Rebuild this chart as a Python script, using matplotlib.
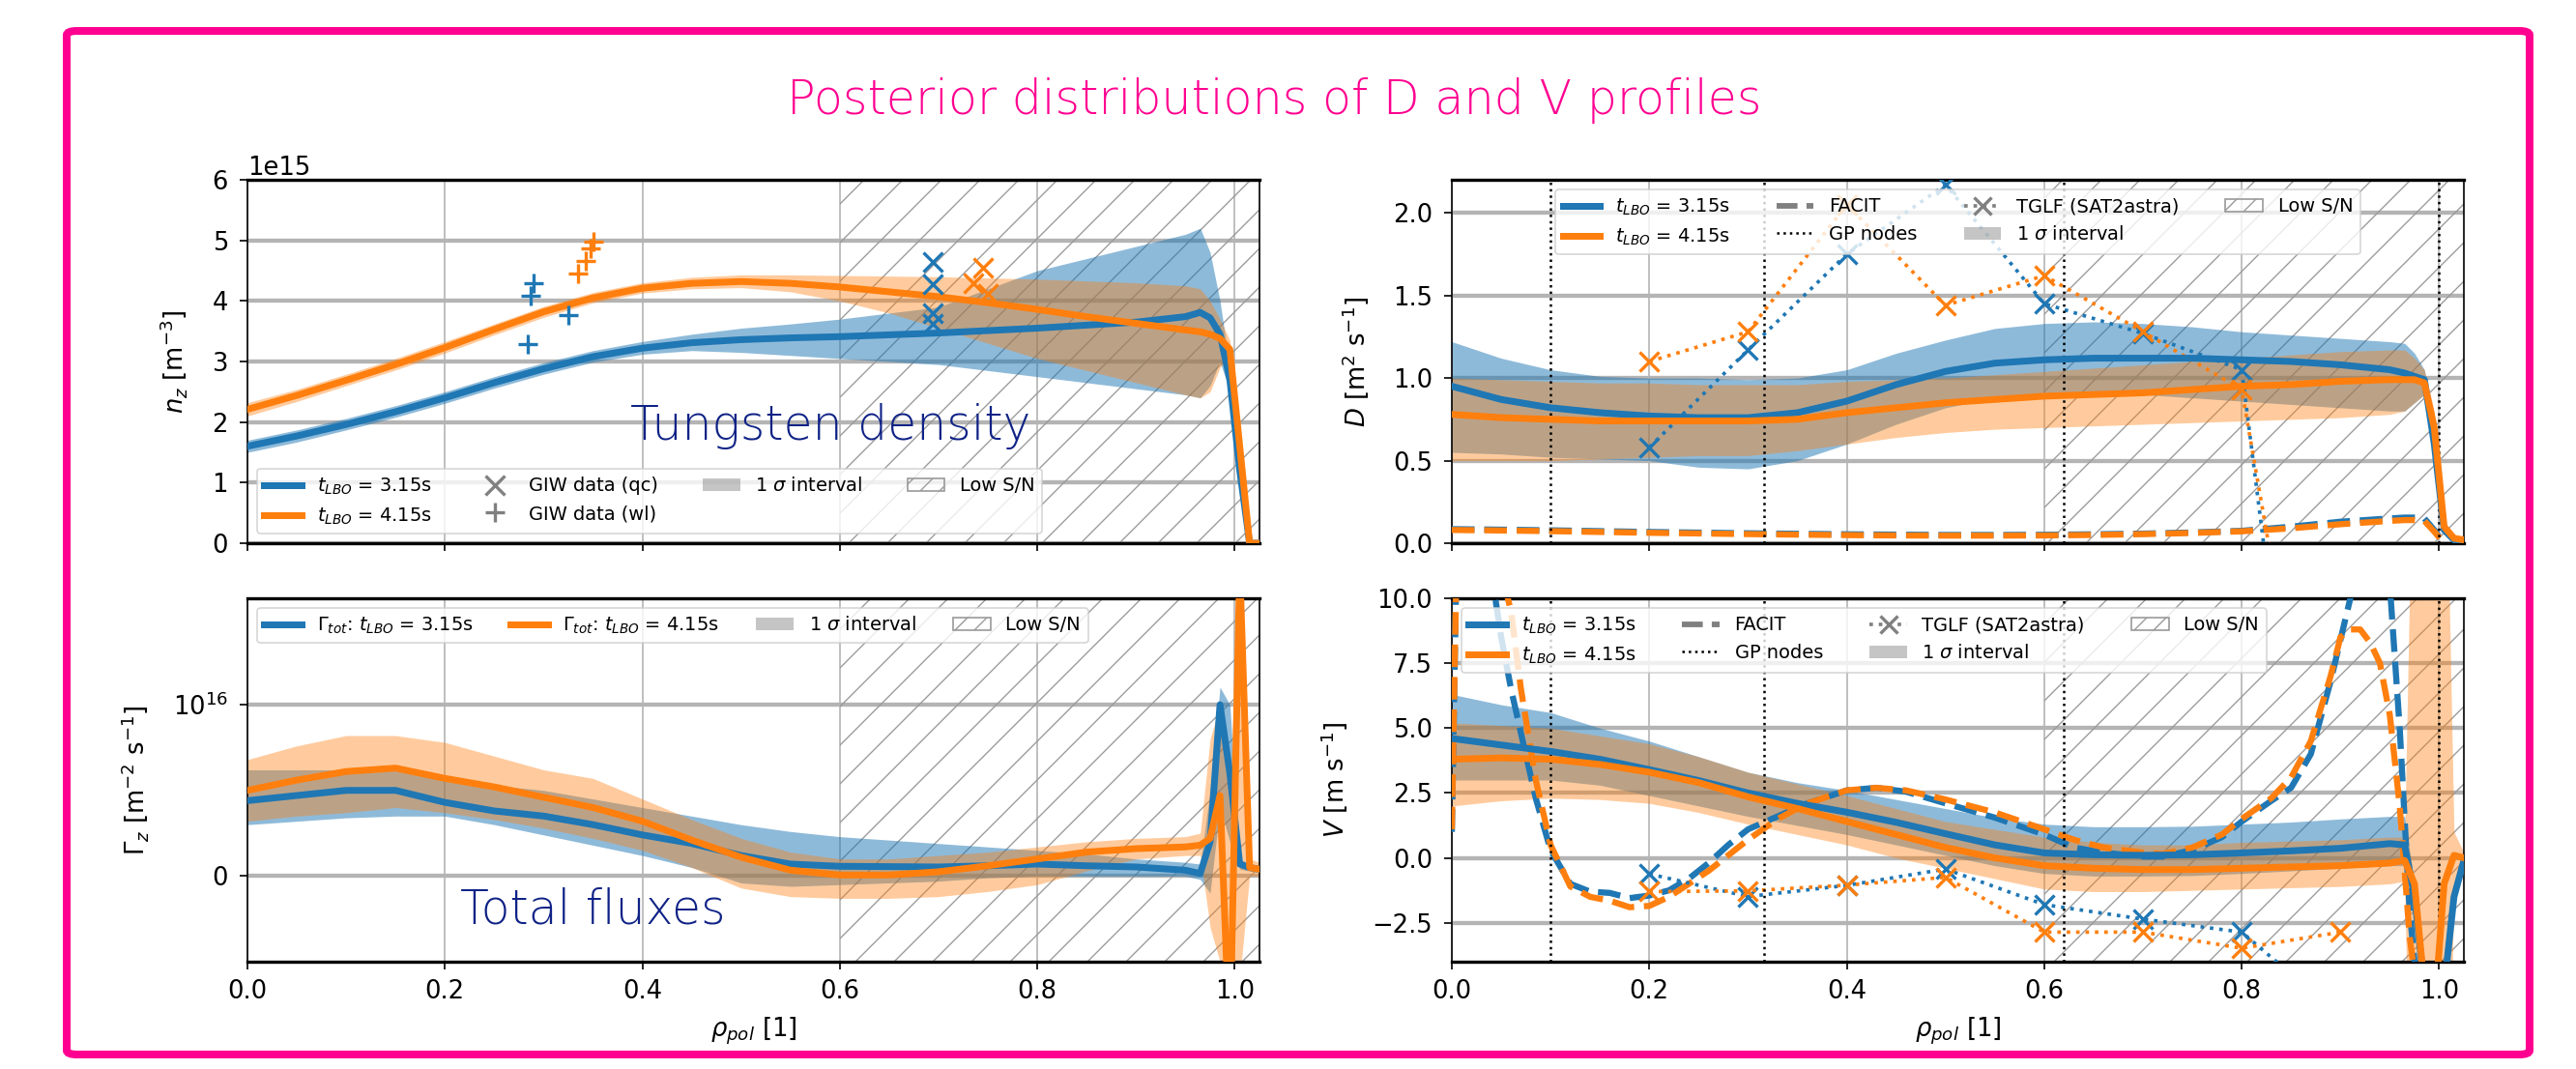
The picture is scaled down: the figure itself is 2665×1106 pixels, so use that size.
import numpy as np
import matplotlib
matplotlib.use("Agg")
import matplotlib.pyplot as plt
from matplotlib.lines import Line2D
from matplotlib.patches import Patch, FancyBboxPatch
from matplotlib.ticker import MultipleLocator, NullLocator

DPI = 120
W_PX, H_PX = 2665, 1106
PINK = "#ff0090"
NAVY = "#0f2286"
BLUE, ORANGE = "#1f77b4", "#ff7f0e"
HATCH_C = "0.6"

plt.rcParams.update({
    "font.family": ["DejaVu Sans"],
    "font.size": 15.5,
    "legend.fontsize": 11.6,
    "hatch.linewidth": 0.8,
    "axes.axisbelow": True,
    "axes.labelpad": 14,
})

# ---- data -------------------------------------------------------------------
rho = [0.0, 0.05, 0.1, 0.15, 0.2, 0.25, 0.3, 0.35, 0.4, 0.45, 0.5, 0.55, 0.6,
       0.65, 0.7, 0.75, 0.8, 0.85, 0.9, 0.95, 0.965, 0.975, 0.985, 0.995,
       1.005, 1.015, 1.025]

# impurity density, units of 1e15 m^-3
nz_blue = [1.6, 1.77, 1.96, 2.17, 2.4, 2.65, 2.88, 3.08, 3.22, 3.31, 3.36, 3.39, 3.41,
           3.44, 3.47, 3.51, 3.55, 3.6, 3.65, 3.74, 3.81, 3.72, 3.45, 2.7, 1.2, 0.0, 0.0]
nz_blue_lo = [1.5, 1.67, 1.87, 2.08, 2.31, 2.56, 2.79, 2.99, 3.12, 3.18, 3.15, 3.1, 3.05,
              3.0, 2.95, 2.85, 2.75, 2.65, 2.55, 2.45, 2.4, 2.6, 3.0, 2.5, 1.1, 0.0, 0.0]
nz_blue_hi = [1.7, 1.87, 2.06, 2.27, 2.5, 2.75, 2.98, 3.18, 3.33, 3.45, 3.55, 3.62, 3.7,
              3.8, 3.9, 4.2, 4.5, 4.7, 4.9, 5.1, 5.2, 4.8, 4.0, 2.9, 1.3, 0.0, 0.0]
nz_orange = [2.21, 2.44, 2.69, 2.95, 3.23, 3.53, 3.82, 4.05, 4.21, 4.29, 4.32, 4.29, 4.23,
             4.15, 4.07, 3.97, 3.86, 3.74, 3.63, 3.52, 3.49, 3.45, 3.38, 3.2, 1.6, 0.0, 0.0]
nz_orange_lo = [2.1, 2.34, 2.6, 2.86, 3.14, 3.44, 3.73, 3.97, 4.13, 4.2, 4.22, 4.15, 4.0,
                3.8, 3.55, 3.3, 3.05, 2.85, 2.65, 2.45, 2.4, 2.5, 2.9, 3.1, 1.5, 0.0, 0.0]
nz_orange_hi = [2.32, 2.54, 2.79, 3.05, 3.33, 3.62, 3.91, 4.14, 4.3, 4.39, 4.43, 4.43, 4.42,
                4.41, 4.4, 4.38, 4.36, 4.33, 4.3, 4.25, 4.2, 4.0, 3.7, 3.35, 1.7, 0.0, 0.0]

qc_blue_x = [0.694, 0.694, 0.694, 0.694]
qc_blue_y = [4.64, 4.28, 3.79, 3.63]
qc_orange_x = [0.745, 0.735, 0.75]
qc_orange_y = [4.55, 4.3, 4.12]
wl_blue_x = [0.29, 0.287, 0.284, 0.325]
wl_blue_y = [4.29, 4.08, 3.28, 3.76]
wl_orange_x = [0.335, 0.343, 0.348, 0.35]
wl_orange_y = [4.45, 4.66, 4.87, 4.98]

# total flux, units of 1e16 m^-2 s^-1
gam_blue = [0.44, 0.47, 0.50, 0.50, 0.43, 0.38, 0.35, 0.30, 0.24, 0.19, 0.12, 0.07, 0.057,
            0.055, 0.053, 0.06, 0.07, 0.06, 0.053, 0.034, 0.015, 0.2, 1.0, 0.6, 0.07, 0.05, 0.04]
gam_blue_lo = [0.3, 0.32, 0.34, 0.35, 0.35, 0.3, 0.24, 0.18, 0.12, 0.05, -0.04, -0.06, -0.05,
               -0.04, -0.03, -0.01, 0.0, 0.0, 0.0, 0.0, -0.02, -0.1, 0.4, 0.2, 0.04, 0.03, 0.02]
gam_blue_hi = [0.62, 0.62, 0.62, 0.62, 0.58, 0.53, 0.5, 0.45, 0.4, 0.35, 0.3, 0.26, 0.23,
               0.21, 0.19, 0.17, 0.15, 0.13, 0.1, 0.08, 0.07, 0.5, 1.3, 1.0, 0.1, 0.07, 0.06]
gam_orange = [0.50, 0.56, 0.61, 0.63, 0.57, 0.52, 0.46, 0.40, 0.32, 0.21, 0.11, 0.034, 0.006,
              0.006, 0.025, 0.06, 0.10, 0.14, 0.16, 0.17, 0.18, 0.22, 0.47, -1.0, 8.0, 0.05, 0.04]
gam_orange_lo = [0.32, 0.35, 0.37, 0.4, 0.37, 0.33, 0.28, 0.22, 0.15, 0.05, -0.07, -0.12, -0.13,
                 -0.13, -0.12, -0.09, -0.05, 0.03, 0.1, 0.12, 0.12, -0.3, -0.5, -1.5, -0.6, 0.0, 0.0]
gam_orange_hi = [0.68, 0.76, 0.82, 0.82, 0.78, 0.7, 0.62, 0.57, 0.45, 0.33, 0.22, 0.14, 0.1,
                 0.1, 0.12, 0.14, 0.17, 0.2, 0.22, 0.23, 0.25, 0.8, 1.0, 0.5, 9.0, 0.1, 0.08]

# diffusion D [m^2/s]
d_blue = [0.95, 0.87, 0.82, 0.79, 0.77, 0.76, 0.76, 0.79, 0.86, 0.96, 1.04, 1.09, 1.11,
          1.12, 1.12, 1.12, 1.11, 1.10, 1.08, 1.05, 1.03, 1.01, 0.99, 0.6, 0.08, 0.02, 0.01]
d_blue_lo = [0.55, 0.54, 0.52, 0.51, 0.5, 0.46, 0.45, 0.5, 0.6, 0.72, 0.82, 0.88, 0.9,
             0.9, 0.9, 0.88, 0.86, 0.84, 0.82, 0.8, 0.8, 0.85, 0.9, 0.5, 0.06, 0.01, 0.0]
d_blue_hi = [1.22, 1.12, 1.05, 1.01, 1.0, 1.0, 0.99, 1.0, 1.05, 1.15, 1.23, 1.3, 1.33,
             1.34, 1.33, 1.31, 1.28, 1.26, 1.24, 1.22, 1.21, 1.15, 1.05, 0.7, 0.1, 0.03, 0.02]
d_orange = [0.78, 0.76, 0.75, 0.74, 0.74, 0.74, 0.74, 0.75, 0.79, 0.82, 0.85, 0.87, 0.89,
            0.9, 0.91, 0.93, 0.95, 0.96, 0.98, 0.99, 0.99, 0.99, 0.97, 0.7, 0.1, 0.03, 0.02]
d_orange_lo = [0.5, 0.5, 0.5, 0.51, 0.52, 0.53, 0.53, 0.56, 0.6, 0.64, 0.67, 0.69, 0.7,
               0.71, 0.72, 0.73, 0.74, 0.75, 0.76, 0.78, 0.8, 0.85, 0.9, 0.6, 0.08, 0.02, 0.01]
d_orange_hi = [1.0, 0.99, 0.98, 0.97, 0.97, 0.96, 0.96, 0.96, 0.98, 0.99, 1.0, 1.02, 1.04,
               1.06, 1.08, 1.1, 1.12, 1.14, 1.16, 1.17, 1.17, 1.12, 1.05, 0.8, 0.12, 0.04, 0.03]
facit_d_blue = [0.085, 0.082, 0.078, 0.073, 0.068, 0.064, 0.06, 0.057, 0.054, 0.052, 0.05, 0.05,
                0.051, 0.054, 0.058, 0.065, 0.075, 0.1, 0.13, 0.15, 0.155, 0.155, 0.15, 0.08,
                0.0, np.nan, np.nan]
facit_d_orange = [0.08, 0.077, 0.073, 0.068, 0.063, 0.059, 0.055, 0.052, 0.049, 0.047, 0.046,
                  0.046, 0.047, 0.05, 0.055, 0.062, 0.072, 0.09, 0.115, 0.135, 0.14, 0.14,
                  0.135, 0.07, 0.0, np.nan, np.nan]

tglf_rho = [0.2, 0.3, 0.4, 0.5, 0.6, 0.7, 0.8, 0.9]
tglf_d_blue = [0.58, 1.17, 1.75, 2.17, 1.45, 1.27, 1.05, -3.7]
tglf_d_orange = [1.1, 1.28, 2.05, 1.44, 1.62, 1.28, 0.93, -2.5]

gp_nodes = [0.1, 0.316, 0.62, 1.0]

# convection V [m/s]
v_blue = [4.6, 4.35, 4.1, 3.8, 3.4, 2.98, 2.5, 2.1, 1.76, 1.37, 0.93, 0.5, 0.19, 0.12, 0.1,
          0.12, 0.19, 0.27, 0.37, 0.55, 0.5, -1.5, -5.0, -6.0, -5.0, -1.5, -0.1]
v_blue_lo = [3.0, 3.0, 3.0, 2.8, 2.4, 2.0, 1.6, 1.25, 0.9, 0.5, 0.1, -0.3, -0.6, -0.7, -0.7,
             -0.68, -0.6, -0.5, -0.4, -0.3, -0.3, -2.0, -5.5, -6.5, -5.5, -1.8, -0.2]
v_blue_hi = [6.3, 5.9, 5.6, 5.0, 4.5, 3.9, 3.3, 2.9, 2.6, 2.25, 1.9, 1.55, 1.3, 1.2, 1.2,
             1.22, 1.3, 1.38, 1.5, 1.6, 1.6, -1.0, -4.5, -5.5, -4.5, -1.2, 0.0]
v_orange = [3.8, 3.85, 3.8, 3.6, 3.3, 2.9, 2.35, 1.9, 1.4, 0.9, 0.4, 0.0, -0.3, -0.4, -0.45,
            -0.45, -0.4, -0.35, -0.3, -0.2, -0.1, -1.0, -5.0, -6.0, -1.0, 0.1, 0.0]
v_orange_lo = [2.0, 2.2, 2.3, 2.25, 2.1, 1.75, 1.3, 0.9, 0.5, 0.0, -0.4, -0.8, -1.2, -1.3, -1.3,
               -1.25, -1.2, -1.15, -1.1, -1.0, -0.9, -20, -20, -20, -20, -1.0, -0.2]
v_orange_hi = [5.2, 5.1, 5.0, 4.7, 4.4, 3.9, 3.3, 2.85, 2.4, 1.9, 1.4, 1.1, 0.8, 0.6, 0.5,
               0.5, 0.6, 0.65, 0.7, 0.8, 0.8, 20, 20, 20, 20, 1.0, 0.2]

vf_rho = [0.0, 0.005, 0.04, 0.05, 0.06, 0.07, 0.085, 0.1, 0.12, 0.14, 0.16, 0.18, 0.2, 0.22,
          0.24, 0.26, 0.28, 0.3, 0.33, 0.36, 0.4, 0.43, 0.46, 0.5, 0.55, 0.6, 0.63, 0.66,
          0.7, 0.72, 0.75, 0.78, 0.8, 0.83, 0.85, 0.87, 0.89, 0.9, 0.91, 0.92, 0.93, 0.94,
          0.95, 0.96, 0.97, 0.98]
facit_v_blue = [1.0, 12, 11, 8.5, 6.5, 4.8, 2.3, 0.3, -1.0, -1.3, -1.35, -1.55, -1.45, -1.25,
                -0.8, -0.2, 0.5, 1.1, 1.6, 2.1, 2.6, 2.7, 2.55, 2.1, 1.55, 0.9, 0.4, 0.2,
                0.05, 0.05, 0.3, 0.8, 1.4, 2.2, 2.7, 4.0, 6.8, 8.4, 10.0, 11.5, 12, 12,
                10.5, 5, -2, -6]
facit_v_orange = [1.1, 12, 12, 11, 9.5, 6.5, 3.0, 0.5, -1.1, -1.5, -1.65, -1.9, -1.85, -1.5,
                  -1.0, -0.5, 0.1, 0.7, 1.5, 2.1, 2.6, 2.7, 2.6, 2.25, 1.75, 1.1, 0.7, 0.4,
                  0.2, 0.15, 0.4, 0.9, 1.5, 2.3, 3.1, 4.5, 7.0, 8.5, 8.8, 8.8, 8.3, 7.5,
                  5.5, 2.0, -3, -6]
tglf_v_blue = [-0.62, -1.49, -1.06, -0.43, -1.8, -2.36, -2.86, -6.1]
tglf_v_orange = [-1.3, -1.27, -1.05, -0.75, -2.86, -2.86, -3.48, -2.86]

LOW_SN = 0.6
XMAX = 1.025


# ---- helpers ----------------------------------------------------------------
def style_axes(ax, bottom_labels):
    ax.set_xlim(0, XMAX)
    ax.xaxis.set_major_locator(MultipleLocator(0.2))
    ax.grid(False)
    ax.yaxis.grid(True, color="#b4b4b4", lw=2.6)
    ax.xaxis.grid(True, color="#b4b4b4", lw=1.0)
    for side in ("top", "bottom"):
        ax.spines[side].set_linewidth(2.0)
    for side in ("left", "right"):
        ax.spines[side].set_linewidth(1.0)
    ax.tick_params(length=5, width=1.0, labelsize=15.5, labelbottom=bottom_labels)
    ax.tick_params(axis="y", pad=7)
    ax.tick_params(axis="x", pad=6)
    ax.axvspan(LOW_SN, 1.1, facecolor="none", edgecolor=HATCH_C, hatch="/",
               lw=0, zorder=0.8)
    if bottom_labels:
        ax.set_xlabel(r"$\rho_{pol}$ [1]", fontsize=15.5, labelpad=7)


def bands(ax, x, scale, blue, blo, bhi, orange, olo, ohi):
    s = scale
    ax.fill_between(x, np.array(blo) * s, np.array(bhi) * s, color=BLUE, alpha=0.5, lw=0, zorder=2)
    ax.fill_between(x, np.array(olo) * s, np.array(ohi) * s, color=ORANGE, alpha=0.4, lw=0, zorder=2)
    ax.plot(x, np.array(blue) * s, color=BLUE, lw=4.2, zorder=4)
    ax.plot(x, np.array(orange) * s, color=ORANGE, lw=4.2, zorder=4)


h_blue = Line2D([], [], color=BLUE, lw=4.2, label=r"$t_{LBO}$ = 3.15s")
h_orange = Line2D([], [], color=ORANGE, lw=4.2, label=r"$t_{LBO}$ = 4.15s")
h_sigma = Patch(facecolor="0.5", alpha=0.45, label=r"1 $\sigma$ interval")
h_lowsn = Patch(facecolor="none", edgecolor=HATCH_C, hatch="//", label="Low S/N")
h_facit = Line2D([], [], color="0.5", lw=3.5, ls="--", label="FACIT")
h_gp = Line2D([], [], color="k", lw=1.5, ls=":", label="GP nodes")
h_tglf = Line2D([], [], color="0.5", lw=2.2, ls=":", marker="x", ms=11, mew=2,
                label="TGLF (SAT2astra)")

fig = plt.figure(figsize=(W_PX / DPI, H_PX / DPI), dpi=DPI)
aw = 1047 / W_PX
ah = 376 / H_PX
xl, xr = 256 / W_PX, 1502 / W_PX
yt, yb = 1 - 562 / H_PX, 1 - 995 / H_PX

# ---- top left: density ------------------------------------------------------
ax = fig.add_axes([xl, yt, aw, ah])
style_axes(ax, False)
bands(ax, rho, 1e15, nz_blue, nz_blue_lo, nz_blue_hi, nz_orange, nz_orange_lo, nz_orange_hi)
ax.plot(qc_blue_x, np.array(qc_blue_y) * 1e15, "x", color=BLUE, ms=12, mew=2, zorder=5)
ax.plot(qc_orange_x, np.array(qc_orange_y) * 1e15, "x", color=ORANGE, ms=12, mew=2, zorder=5)
ax.plot(wl_blue_x, np.array(wl_blue_y) * 1e15, "+", color=BLUE, ms=12, mew=2, zorder=5)
ax.plot(wl_orange_x, np.array(wl_orange_y) * 1e15, "+", color=ORANGE, ms=12, mew=2, zorder=5)
ax.set_ylim(0, 6e15)
ax.yaxis.set_major_locator(MultipleLocator(1e15))
ax.yaxis.get_offset_text().set_fontsize(15.5)
ax.set_ylabel(r"$n_z$ [m$^{-3}$]")
h_qc = Line2D([], [], color="0.5", ls="none", marker="x", ms=12, mew=2, label="GIW data (qc)")
h_wl = Line2D([], [], color="0.5", ls="none", marker="+", ms=12, mew=2, label="GIW data (wl)")
ax.legend(handles=[h_blue, h_orange, h_qc, h_wl, h_sigma, h_lowsn], ncol=4,
          loc="lower left", columnspacing=2.4)

# ---- bottom left: flux ------------------------------------------------------
ax = fig.add_axes([xl, yb, aw, ah])
style_axes(ax, True)
bands(ax, rho, 1e16, gam_blue, gam_blue_lo, gam_blue_hi, gam_orange, gam_orange_lo, gam_orange_hi)
ax.set_yscale("symlog", linthresh=1e16, linscale=1)
ax.yaxis.set_minor_locator(NullLocator())
ax.set_ylim(-0.5e16, 4.9e16)
ax.set_ylabel(r"$\Gamma_z$ [m$^{-2}$ s$^{-1}$]")
hg_blue = Line2D([], [], color=BLUE, lw=4.2, label=r"$\Gamma_{tot}$: $t_{LBO}$ = 3.15s")
hg_orange = Line2D([], [], color=ORANGE, lw=4.2, label=r"$\Gamma_{tot}$: $t_{LBO}$ = 4.15s")
ax.legend(handles=[hg_blue, hg_orange, h_sigma, h_lowsn], ncol=4, loc="upper left",
          columnspacing=2.0)

# ---- top right: D -----------------------------------------------------------
ax = fig.add_axes([xr, yt, aw, ah])
style_axes(ax, False)
bands(ax, rho, 1.0, d_blue, d_blue_lo, d_blue_hi, d_orange, d_orange_lo, d_orange_hi)
ax.plot(rho, facit_d_blue, "--", color=BLUE, lw=3.8, zorder=3)
ax.plot(rho, facit_d_orange, "--", color=ORANGE, lw=3.8, zorder=3)
ax.plot(tglf_rho, tglf_d_blue, ":", color=BLUE, lw=2.2, marker="x", ms=12, mew=2, zorder=3)
ax.plot(tglf_rho, tglf_d_orange, ":", color=ORANGE, lw=2.2, marker="x", ms=12, mew=2, zorder=3)
for xn in gp_nodes:
    ax.axvline(xn, color="k", ls=":", lw=1.5, zorder=3)
ax.set_ylim(0, 2.2)
ax.yaxis.set_major_locator(MultipleLocator(0.5))
ax.set_ylabel(r"$D$ [m$^2$ s$^{-1}$]")
ax.legend(handles=[h_blue, h_orange, h_facit, h_gp, h_tglf, h_sigma, h_lowsn], ncol=4,
          loc="upper center", columnspacing=2.5)

# ---- bottom right: V --------------------------------------------------------
ax = fig.add_axes([xr, yb, aw, ah])
style_axes(ax, True)
bands(ax, rho, 1.0, v_blue, v_blue_lo, v_blue_hi, v_orange, v_orange_lo, v_orange_hi)
ax.plot(vf_rho, facit_v_blue, "--", color=BLUE, lw=3.8, zorder=3)
ax.plot(vf_rho, facit_v_orange, "--", color=ORANGE, lw=3.8, zorder=3)
ax.plot(tglf_rho, tglf_v_blue, ":", color=BLUE, lw=2.2, marker="x", ms=12, mew=2, zorder=3)
ax.plot(tglf_rho, tglf_v_orange, ":", color=ORANGE, lw=2.2, marker="x", ms=12, mew=2, zorder=3)
for xn in gp_nodes:
    ax.axvline(xn, color="k", ls=":", lw=1.5, zorder=3)
ax.set_ylim(-4, 10)
ax.yaxis.set_major_locator(MultipleLocator(2.5))
ax.set_ylabel(r"$V$ [m s$^{-1}$]")
ax.legend(handles=[h_blue, h_orange, h_facit, h_gp, h_tglf, h_sigma, h_lowsn], ncol=4,
          loc="upper left", columnspacing=2.5)

# ---- slide decorations ------------------------------------------------------
fig.text(0.4945, 1 - 118 / H_PX, "Posterior distributions of D and V profiles",
         color=PINK, fontsize=29.5, family="DejaVu Sans", weight="light",
         ha="center", va="baseline")
fig.text(652 / W_PX, 1 - 455 / H_PX, "Tungsten density", color=NAVY, fontsize=29.3,
         family="DejaVu Sans", weight="light", ha="left", va="baseline", zorder=10)
fig.text(476 / W_PX, 1 - 955 / H_PX, "Total fluxes", color=NAVY, fontsize=29.3,
         family="DejaVu Sans", weight="light", ha="left", va="baseline", zorder=10)

x0, x1 = 69 / W_PX, 2617 / W_PX
y1, y0 = 1 - 32 / H_PX, 1 - 1091 / H_PX
frame = FancyBboxPatch((x0, y0), x1 - x0, y1 - y0, boxstyle="round,pad=0,rounding_size=0.004",
                       transform=fig.transFigure, fill=False, ec=PINK, lw=4.8, zorder=20)
fig.add_artist(frame)

fig.savefig("out.png", dpi=DPI)
